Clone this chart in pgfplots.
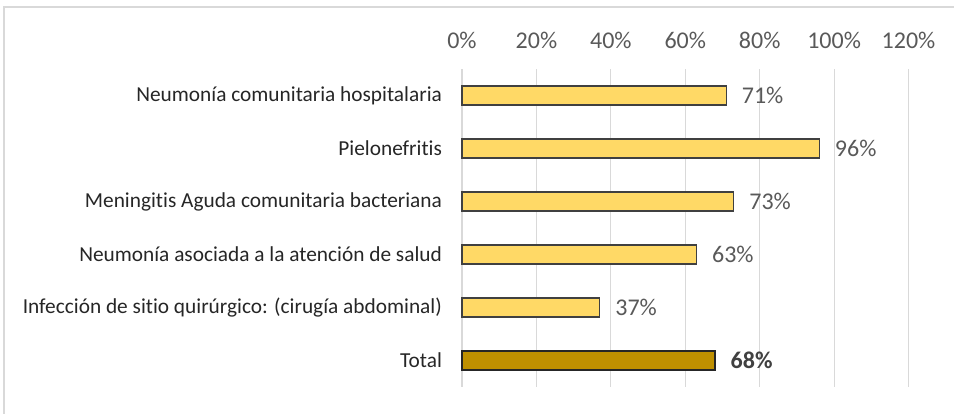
\documentclass[border=0pt]{standalone}
\usepackage{pgfplots}
\pgfplotsset{compat=1.18}
\usepackage{fontspec}
\setmainfont[Ligatures=NoCommon]{Carlito}
\definecolor{barlight}{HTML}{FFD966}
\definecolor{bardark}{HTML}{BF9000}
\definecolor{gridc}{HTML}{D9D9D9}
\definecolor{txt}{HTML}{595959}
\definecolor{lab}{HTML}{262626}
\begin{document}
\begin{tikzpicture}[x=1pt,y=1pt]
\useasboundingbox (-346.5,-20.25) rectangle (369,290.25);
\draw[gridc,line width=1.2pt] (-343.5,-30) -- (-343.5,285) -- (380,285);
\begin{axis}[
  at={(0,0)}, anchor=south west,
  scale only axis, width=334.9pt, height=238.5pt,
  xbar, bar shift=0pt, bar width=0.36,
  xmin=0, xmax=120, ymin=-0.5, ymax=5.5, y dir=reverse,
  xtick={0,20,...,120},
  xticklabels={0\%,20\%,40\%,60\%,80\%,100\%,120\%},
  xticklabel pos=top,
  xticklabel style={font=\fontsize{18}{18}\selectfont, text=txt, yshift=12pt},
  ytick={0,1,2,3,4,5},
  yticklabels={Neumonía comunitaria hospitalaria,Pielonefritis,Meningitis Aguda comunitaria bacteriana,Neumonía asociada a la atención de salud,Infección de sitio quirúrgico: (cirugía abdominal),Total},
  yticklabel style={font=\fontsize{16}{16}\selectfont, text=lab, anchor=east, xshift=-11.5pt},
  major tick length=0pt,
  axis line style={draw=none},
  xmajorgrids, grid style={gridc, line width=0.9pt},
  /pgf/number format/assume math mode=true,
  nodes near coords={\pgfmathprintnumber{\pgfplotspointmeta}\%},
  point meta=x,
  nodes near coords style={font=\fontsize{18}{18}\selectfont, text=txt, anchor=west, xshift=8pt},
  clip=false,
]
\addplot[fill=barlight, draw=black!75, line width=0.9pt] coordinates {(71,0) (96,1) (73,2) (63,3) (37,4)};
\addplot[fill=bardark, draw=black!85, line width=0.9pt,
  nodes near coords style={font=\fontsize{18}{18}\selectfont\bfseries, text=black!75}] coordinates {(68,5)};
\end{axis}
\end{tikzpicture}
\end{document}
